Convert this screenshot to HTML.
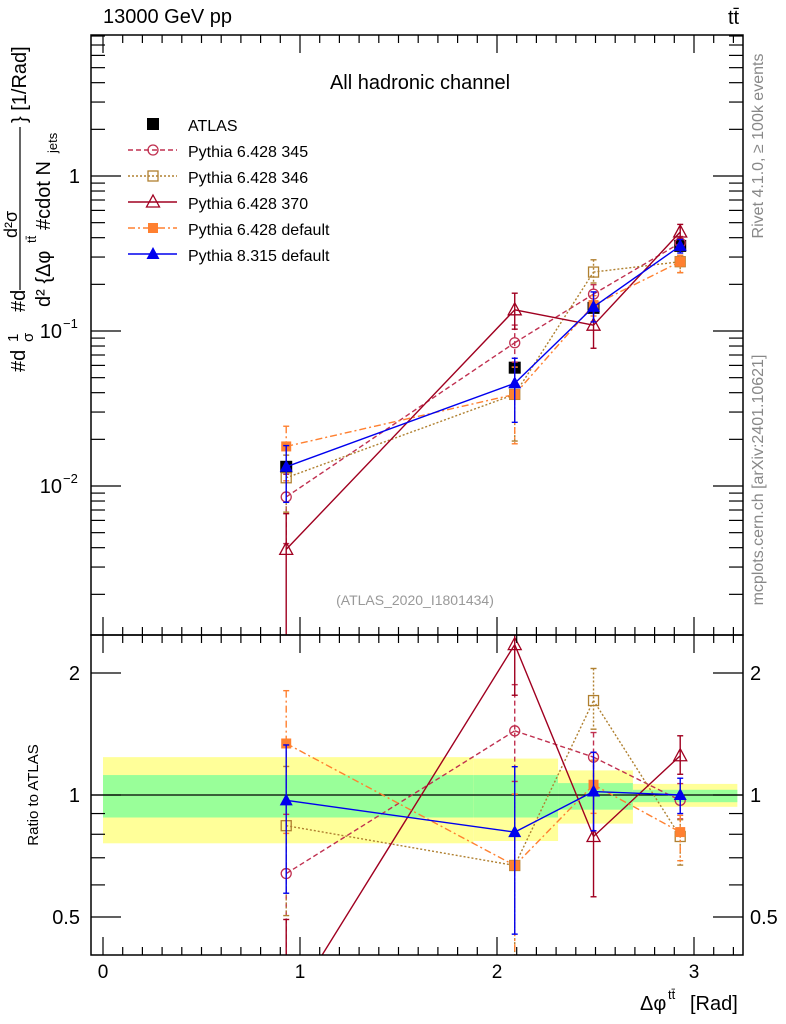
<!DOCTYPE html>
<html><head><meta charset="utf-8">
<style>
html,body{margin:0;padding:0;background:#fff;width:786px;height:1024px;overflow:hidden;}
svg{display:block;font-family:"Liberation Sans",sans-serif;vertical-align:top;}
</style></head>
<body>
<svg id="chart" width="786" height="1024" viewBox="0 0 786 1024" xmlns="http://www.w3.org/2000/svg"></svg>
<script>
const xCenters=[0.93,2.09,2.49,2.93];
const binEdges=[0,1.88,2.31,2.69,3.22];
const atlas=[0.0133,0.058,0.141,0.354];
const bandYellowHi=[1.24,1.23,1.15,1.065];
const bandYellowLo=[0.76,0.77,0.85,0.935];
const bandGreenHi=[1.12,1.12,1.07,1.03];
const bandGreenLo=[0.88,0.88,0.92,0.96];
const p345=[0.0085,0.084,0.173,0.37];
const p346=[0.0113,0.039,0.24,0.28];
const p370=[0.0039,0.137,0.109,0.435];
const pdef=[0.018,0.039,0.147,0.28];
const p8=[0.0133,0.046,0.143,0.354];
const r345=[0.64,1.44,1.24,0.97];
const r346=[0.84,0.67,1.71,0.79];
const r370=[0.29,2.35,0.79,1.25];
const rdef=[1.34,0.67,1.06,0.81];
const r8=[0.97,0.81,1.02,1.0];
const up345=[1.4,1.3,1.15,1.1], dn345=[0.5,0.75,0.85,0.9];
const up346=[1.4,1.5,1.2,1.1], dn346=[0.6,0.5,0.85,0.85];
const up370=[1.7,1.28,1.3,1.12], dn370=[0.2,0.75,0.71,0.9];
const updef=[1.35,1.5,1.15,1.1], dndef=[0.6,0.48,0.85,0.85];
const up8=[1.37,1.45,1.25,1.1], dn8=[0.59,0.56,0.8,0.9];
const xTickLabels=["0","1","2","3"];

const svg=document.getElementById('chart');
const NS="http://www.w3.org/2000/svg";
const L=91,R=743,T=35,M=635,B=955;
function X(v){return 103+v*197;}
function Y(v){return 176-Math.log10(v)*155;}
function YR(v){return 795-Math.log2(v)*122;}
function el(tag,attrs,parent){const e=document.createElementNS(NS,tag);for(const k in attrs)e.setAttribute(k,attrs[k]);(parent||svg).appendChild(e);return e;}
function txt(s,attrs,parent){const e=el('text',attrs,parent);e.textContent=s;return e;}
function clipSeg(x1,y1,x2,y2,lo,hi){
  if((y1<lo&&y2<lo)||(y1>hi&&y2>hi))return null;
  function at(yy){const t=(yy-y1)/(y2-y1);return [x1+t*(x2-x1),yy];}
  let a=[x1,y1],b=[x2,y2];
  if(y1<lo)a=at(lo);if(y1>hi)a=at(hi);
  if(y2<lo)b=at(lo);if(y2>hi)b=at(hi);
  return [a,b];
}
function clampY(y,lo,hi){return Math.max(lo,Math.min(hi,y));}

const defs=el('defs',{});
const c1=el('clipPath',{id:'cm'},defs);el('rect',{x:L,y:T,width:R-L,height:M-T},c1);
const c2=el('clipPath',{id:'cr'},defs);el('rect',{x:L,y:M,width:R-L,height:B-M},c2);

const gB=el('g',{'clip-path':'url(#cr)'});


for(let i=0;i<4;i++){
  const a=X(binEdges[i]),b=X(binEdges[i+1]);
  const y=el('rect',{x:a,y:YR(bandYellowHi[i]),width:b-a,height:YR(bandYellowLo[i])-YR(bandYellowHi[i]),fill:'#ffff99'},gB);
  
  
  const g=el('rect',{x:a,y:YR(bandGreenHi[i]),width:b-a,height:YR(bandGreenLo[i])-YR(bandGreenHi[i]),fill:'#99ff99'},gB);
  
  
}
el('line',{x1:L,x2:R,y1:YR(1),y2:YR(1),stroke:'#000','stroke-width':1.3},gB);

const series=[
 {n:'pythia-6428-345',v:p345,r:r345,up:up345,dn:dn345,c:'#c03050',dash:'5,3',m:'circle'},
 {n:'pythia-6428-346',v:p346,r:r346,up:up346,dn:dn346,c:'#b08030',dash:'2,2',m:'osquare'},
 {n:'pythia-6428-370',v:p370,r:r370,up:up370,dn:dn370,c:'#a00020',dash:'',m:'otri'},
 {n:'pythia-6428-default',v:pdef,r:rdef,up:updef,dn:dndef,c:'#ff8030',dash:'7,3,2,3',m:'fsquare'},
 {n:'pythia-8315-default',v:p8,r:r8,up:up8,dn:dn8,c:'#0000ee',dash:'',m:'ftri'}
];
function marker(type,x,y,c,g){
  if(type==='circle')el('circle',{cx:x,cy:y,r:5,fill:'none',stroke:c,'stroke-width':1.3},g);
  else if(type==='osquare')el('rect',{x:x-5,y:y-5,width:10,height:10,fill:'none',stroke:c,'stroke-width':1.3},g);
  else if(type==='fsquare')el('rect',{x:x-5,y:y-5,width:10,height:10,fill:c},g);
  else if(type==='bsquare')el('rect',{x:x-6,y:y-6,width:12,height:12,fill:'#000'},g);
  else if(type==='otri')el('path',{d:`M${x},${y-7}L${x+6.5},${y+5}L${x-6.5},${y+5}Z`,fill:'none',stroke:c,'stroke-width':1.3},g);
  else if(type==='ftri')el('path',{d:`M${x},${y-7}L${x+6.5},${y+5}L${x-6.5},${y+5}Z`,fill:c},g);
}
function drawPanel(vals,up,dn,yf,s,g,lo,hi){
  let d='';
  for(let i=0;i<vals.length-1;i++){
    const sg=clipSeg(X(xCenters[i]),yf(vals[i]),X(xCenters[i+1]),yf(vals[i+1]),lo,hi);
    if(sg)d+=`M${sg[0][0]},${sg[0][1]}L${sg[1][0]},${sg[1][1]}`;
  }
  if(d)el('path',{d:d,fill:'none',stroke:s.c,'stroke-width':1.4,'stroke-dasharray':s.dash},g);
  vals.forEach((v,i)=>{
    const x=X(xCenters[i]);
    const y1r=yf(v*up[i]),y2r=yf(v*dn[i]);
    const y1=clampY(y1r,lo,hi),y2=clampY(y2r,lo,hi);
    if(y1!==y2)el('line',{x1:x,x2:x,y1:y1,y2:y2,stroke:s.c,'stroke-width':1.4,'stroke-dasharray':s.dash},g);
    if(y1r>=lo&&y1r<=hi)el('line',{x1:x-3,x2:x+3,y1:y1,y2:y1,stroke:s.c,'stroke-width':1.4},g);
    if(y2r>=lo&&y2r<=hi)el('line',{x1:x-3,x2:x+3,y1:y2,y2:y2,stroke:s.c,'stroke-width':1.4},g);
    const ym=yf(v);
    if(ym>=lo&&ym<=hi)marker(s.m,x,ym,s.c,g);
  });
}
const gA=el('g',{'clip-path':'url(#cm)'});


atlas.forEach((v,i)=>{const x=X(xCenters[i]);el('line',{x1:x,x2:x,y1:Y(v*1.06),y2:Y(v*0.94),stroke:'#000','stroke-width':1.3},gA);marker('bsquare',x,Y(v),'#000',gA);});
series.forEach(s=>{
  const gm=el('g',{'clip-path':'url(#cm)'});
  
  
  drawPanel(s.v,s.up,s.dn,Y,s,gm,T,M);
  const gr=el('g',{'clip-path':'url(#cr)'});
  
  
  drawPanel(s.r,s.up,s.dn,YR,s,gr,M,B);
});

el('rect',{x:L,y:T,width:R-L,height:M-T,fill:'none',stroke:'#000','stroke-width':1.5});
el('rect',{x:L,y:M,width:R-L,height:B-M,fill:'none',stroke:'#000','stroke-width':1.5});
for(let k=0;k<=32;k++){
  const v=k/10,x=X(v);if(x<L||x>R)continue;
  const big=k%10===0,hh=big?18:8;
  [[T,1],[M,-1],[M,1],[B,-1]].forEach(([y0,d])=>{
    el('line',{x1:x,x2:x,y1:y0,y2:y0+d*hh,stroke:'#000','stroke-width':1.2});
  });
}
xTickLabels.forEach((t,i)=>{const e=txt(t,{x:X(i),y:978,'font-size':19,'text-anchor':'middle'});});
for(let d=-3;d<=0;d++){for(let m=1;m<=9;m++){const v=m*Math.pow(10,d);const y=Y(v);if(y<T||y>M)continue;const w=m===1?30:14;
 el('line',{x1:L,x2:L+w,y1:y,y2:y,stroke:'#000','stroke-width':1.2});el('line',{x1:R,x2:R-w,y1:y,y2:y,stroke:'#000','stroke-width':1.2});}}
txt("1",{x:80,y:183,'font-size':20,'text-anchor':'end'});
[["−1",331],["−2",486]].forEach(([e,y])=>{const t=txt("10",{x:62,y:y+7,'font-size':20,'text-anchor':'end'});txt(e,{x:63,y:y-3,'font-size':13,'text-anchor':'start'});});
[0.4,0.5,0.6,0.7,0.8,0.9,1,2].forEach(v=>{const y=YR(v);if(y<M||y>B)return;const w=(v===0.5||v===1||v===2)?30:14;
 el('line',{x1:L,x2:L+w,y1:y,y2:y,stroke:'#000','stroke-width':1.2});el('line',{x1:R,x2:R-w,y1:y,y2:y,stroke:'#000','stroke-width':1.2});});
[["2",2],["1",1],["0.5",0.5]].forEach(([t,v])=>{txt(t,{x:80,y:YR(v)+7,'font-size':20,'text-anchor':'end'});txt(t,{x:750,y:YR(v)+7,'font-size':20,'text-anchor':'start'});});

let t=txt("13000 GeV pp",{x:103,y:23,'font-size':20});
t=txt("tt̄",{x:728,y:24,'font-size':20});
t=txt("All hadronic channel",{x:420,y:89,'font-size':20,'text-anchor':'middle'});
t=txt("(ATLAS_2020_I1801434)",{x:415,y:605,'font-size':14,fill:'#999','text-anchor':'middle'});
t=txt("Rivet 4.1.0, ≥ 100k events",{x:0,y:0,'font-size':16,fill:'#888','text-anchor':'middle',transform:'translate(763,146) rotate(-90)'});
t=txt("mcplots.cern.ch [arXiv:2401.10621]",{x:0,y:0,'font-size':16,fill:'#888','text-anchor':'middle',transform:'translate(763,480) rotate(-90)'});
t=txt("Ratio to ATLAS",{x:0,y:0,'font-size':15,'text-anchor':'middle',transform:'translate(38,795) rotate(-90)'});
t=txt("Δφ",{x:640,y:1010,'font-size':20});
txt("tt̄",{x:668,y:999,'font-size':13});txt("[Rad]",{x:690,y:1010,'font-size':20});

const gy=el('g',{});


txt("#d",{x:0,y:0,'font-size':20,transform:'translate(25,372) rotate(-90)'},gy);
txt("1",{x:0,y:0,'font-size':15,transform:'translate(18,342) rotate(-90)'},gy);
txt("σ",{x:0,y:0,'font-size':15,transform:'translate(33,342) rotate(-90)'},gy);
txt("#d",{x:0,y:0,'font-size':20,transform:'translate(25,312) rotate(-90)'},gy);
el('line',{x1:20,x2:20,y1:290,y2:127,stroke:'#000','stroke-width':1.2},gy);
txt("d²σ",{x:0,y:0,'font-size':18,transform:'translate(17,238) rotate(-90)'},gy);
txt("d² {Δφ",{x:0,y:0,'font-size':20,transform:'translate(50,307) rotate(-90)'},gy);
txt("tt̄",{x:0,y:0,'font-size':13,transform:'translate(36,243) rotate(-90)'},gy);
txt("#cdot N",{x:0,y:0,'font-size':20,transform:'translate(50,230) rotate(-90)'},gy);
txt("jets",{x:0,y:0,'font-size':13,transform:'translate(57,153) rotate(-90)'},gy);
txt("} [1/Rad]",{x:0,y:0,'font-size':20,transform:'translate(26,123) rotate(-90)'},gy);

const lg=el('g',{});


const ly=[124,150,176,202,228,254];
marker('bsquare',153,ly[0],'#000',lg);
txt("ATLAS",{x:188,y:ly[0]+7,'font-size':16},lg);
const names=["Pythia 6.428 345","Pythia 6.428 346","Pythia 6.428 370","Pythia 6.428 default","Pythia 8.315 default"];
series.forEach((s,i)=>{const y=ly[i+1];
 const ln=el('line',{x1:128,x2:177,y1:y,y2:y,stroke:s.c,'stroke-width':1.4,'stroke-dasharray':s.dash},lg);
 
 
 marker(s.m,153,y,s.c,lg);
 const tt=txt(names[i],{x:188,y:y+7,'font-size':16},lg);
 
 
});
</script>
</body></html>
